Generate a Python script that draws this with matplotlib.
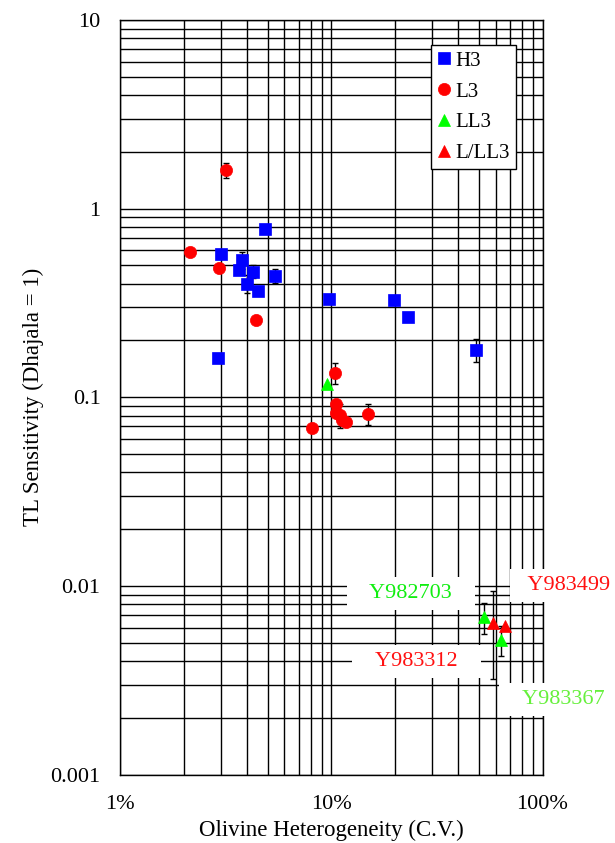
import numpy as np
import matplotlib
matplotlib.use("Agg")
import matplotlib.pyplot as plt
from matplotlib.ticker import LogLocator, FixedLocator, NullFormatter

plt.rcParams['font.family'] = ['Liberation Serif', 'DejaVu Serif']

# ---- data (x in %, y = TL sensitivity) ----
h3_x = [2.91, 3.01, 3.80, 3.64, 4.25, 4.01, 4.52, 5.43, 4.88, 9.78, 19.9, 23.1, 48.7]
h3_y = [0.161, 0.578, 0.535, 0.474, 0.464, 0.400, 0.364, 0.440, 0.781, 0.331, 0.327, 0.265, 0.179]
h3_err = [0, 0, 0.055, 0, 0.037, 0.044, 0, 0.037, 0, 0, 0, 0, 0.025]

l3_x = [2.15, 2.95, 3.19, 4.40, 10.4, 10.5, 10.5, 11.0, 11.2, 11.8, 15.0, 8.15]
l3_y = [0.590, 0.487, 1.60, 0.258, 0.134, 0.0918, 0.083, 0.0806, 0.0755, 0.074, 0.0816, 0.0683]
l3_err = [0, 0, 0.14, 0, 0.017, 0, 0, 0.012, 0, 0, 0.010, 0]

ll3_x = [9.54, 52.7, 63.9]
ll3_y = [0.117, 0.00683, 0.00518]
ll3_err = [0, 0.0013, 0.00093]

lll3_x = [58.2, 66.6]
lll3_y = [0.00632, 0.00616]
lll3_err = [0.0031, 0]

labels_txt = ["Y982703", "Y983499", "Y983312", "Y983367"]
labels_x = [23.85, 126.0, 25.3, 118.0]
labels_y = [0.0091, 0.01006, 0.00398, 0.0025]
labels_col = ["#11ee11", "#ff1111", "#ff1111", "#66f03c"]
labels_lpad = [3, 2, 3, 3]
labels_rpad = [3, 0, 3, 1]

x_ticks = [1, 10, 100]
x_ticklabels = ["1%", "10%", "100%"]
y_ticks = [0.001, 0.01, 0.1, 1, 10]
y_ticklabels = ["0.001", "0.01", "0.1", "1", "10"]

fig = plt.figure(figsize=(6.15, 8.43), dpi=100)
ax = fig.add_axes([120/615, 1-774.5/843, 422.5/615, 754.5/843])
ax.set_xscale('log')
ax.set_yscale('log')
ax.set_xlim(1, 100)
ax.set_ylim(0.001, 10)

series = [
    (h3_x, h3_y, h3_err, 's', '#0000ff', 'H3', 8.3),
    (l3_x, l3_y, l3_err, 'o', '#ff0000', 'L3', 8.8),
    (ll3_x, ll3_y, ll3_err, '^', '#00ff00', 'LL3', 9),
    (lll3_x, lll3_y, lll3_err, '^', '#ff0000', 'L/LL3', 9),
]
handles = []
for xs, ys, es, m, c, lab, ms in series:
    xs = np.array(xs); ys = np.array(ys); es = np.array(es)
    mask = es > 0
    if mask.any():
        ax.errorbar(xs[mask], ys[mask], yerr=es[mask], fmt='none', ecolor='black',
                    elinewidth=1, capsize=2.5, capthick=1, zorder=4)
    h, = ax.plot(xs, ys, linestyle='none', marker=m, color=c, markersize=ms,
                 markeredgewidth=0.5, markeredgecolor=c, label=lab, zorder=5)
    handles.append(h)

ax.xaxis.set_major_locator(FixedLocator(x_ticks))
ax.set_xticklabels(x_ticklabels)
ax.yaxis.set_major_locator(FixedLocator(y_ticks))
ax.set_yticklabels(y_ticklabels)
ax.xaxis.set_minor_locator(LogLocator(base=10, subs=np.arange(2, 10)))
ax.yaxis.set_minor_locator(LogLocator(base=10, subs=np.arange(2, 10)))
ax.xaxis.set_minor_formatter(NullFormatter())
ax.yaxis.set_minor_formatter(NullFormatter())
ax.tick_params(which='both', length=0, labelsize=16)
ax.tick_params(axis='x', pad=15)
ax.tick_params(axis='y', pad=14)
ax.grid(which='both', color='black', linewidth=1.0)
ax.set_axisbelow(True)
for s in ax.spines.values():
    s.set_linewidth(1.0)
    s.set_color('black')

ax.set_xlabel("Olivine Heterogeneity (C.V.)", fontsize=16.5)
ax.set_ylabel("TL Sensitivity (Dhajala = 1)", fontsize=16.5)
ax.xaxis.set_label_coords(0.5, -0.06)
ax.yaxis.set_label_coords(-0.18, 0.5)

for t, x, y, c, lp, rp in zip(labels_txt, labels_x, labels_y, labels_col, labels_lpad, labels_rpad):
    ax.text(x, y, " " * lp + t + " " * rp, color=c, fontsize=16, ha='center', va='center',
            bbox=dict(boxstyle='square,pad=0.3', facecolor='white', edgecolor='none'),
            zorder=3, clip_on=False)

leg = ax.legend(handles=handles, loc='upper right', bbox_to_anchor=(0.937, 0.967),
                fontsize=15, frameon=True, fancybox=False, framealpha=1,
                edgecolor='black', handlelength=0.6, handletextpad=0.25,
                labelspacing=0.54, borderpad=0.3, borderaxespad=0)
leg.get_frame().set_linewidth(1.0)
leg.set_zorder(6)

fig.savefig("out.png", dpi=100)
